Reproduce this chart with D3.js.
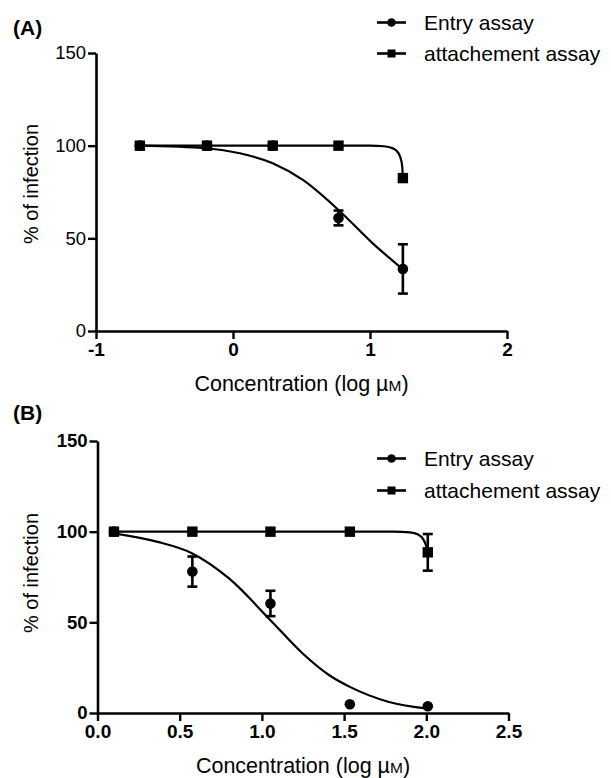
<!DOCTYPE html>
<html>
<head>
<meta charset="utf-8">
<script src="https://cdn.jsdelivr.net/npm/d3@7"></script>
<style>
  html, body { margin: 0; padding: 0; background: #fff; }
  svg { display: block; }
</style>
</head>
<body>
<div id="chart"></div>
<script>
// ── Data ──────────────────────────────────────────────────────

const seriesNames = ['Entry assay', 'attachement assay'];
const yTicks = [0, 50, 100, 150];

// Panel A
const xTicksA = [-1, 0, 1, 2];
const concA = [-0.68, -0.19, 0.29, 0.77, 1.24];
const entryA = [100, 100, 100, 61, 33.5];
const entryErrA = [0, 0, 0, 4, 13.3];
const attachA = [100, 100, 100, 100, 82.5];
const attachErrA = [0, 0, 0, 0, 0];
// fitted curves, points
const entryFitA = [[-0.68, 100], [-0.19, 98.6], [0.05, 95.9], [0.29, 90.5], [0.51, 81.5],
                   [0.77, 65.3], [1.02, 47.3], [1.24, 33.3]];
const attachFitA = [[-0.68, 100], [1.0, 100], [1.1, 99.7], [1.15, 99], [1.19, 97.5],
                    [1.22, 94], [1.235, 89], [1.24, 82.5]];

// Panel B
const xTicksB = [0, 0.5, 1, 1.5, 2, 2.5];
const concB = [0.1, 0.577, 1.052, 1.535, 2.009];
const entryB = [100, 78, 60.4, 4.8, 3.7];
const entryErrB = [0, 8.3, 7, 0, 0];
const attachB = [100, 100, 100, 100, 88.6];
const attachErrB = [0, 0, 0, 0, 10.1];
const entryFitB = [[0.1, 99.1], [0.36, 94.5], [0.577, 88], [0.8, 74.2], [1.052, 51.2],
                   [1.248, 32.8], [1.41, 20.8], [1.535, 14.4], [1.773, 6.1], [2.009, 2.4]];
const attachFitB = [[0.1, 100], [1.8, 100], [1.9, 99.6], [1.95, 98.5], [1.98, 96],
                    [2.0, 92], [2.009, 88.6]];

// ── Chart ─────────────────────────────────────────────────────

const FONT = "'Liberation Sans', Arial, Helvetica, sans-serif";
const INK = '#000';

const svg = d3.select('#chart').append('svg')
  .attr('width', 611).attr('height', 778);

function panel(opt) {
  const x = d3.scaleLinear().domain(opt.xDomain).range(opt.xRange);
  const y = d3.scaleLinear().domain([0, 150]).range(opt.yRange);
  const g = svg.append('g');

  // panel letter
  g.append('text')
    .attr('x', 13).attr('y', opt.letterY)
    .attr('font-family', FONT).attr('font-size', 21).attr('font-weight', 'bold')
    .attr('fill', INK).text(opt.letter);

  // axes
  const yAxis = g.append('g').attr('transform', `translate(${opt.xRange[0]},0)`)
    .call(d3.axisLeft(y).tickValues(yTicks).tickSize(8).tickSizeOuter(0).tickPadding(2));
  const xAxis = g.append('g').attr('transform', `translate(0,${opt.yRange[0]})`)
    .call(d3.axisBottom(x).tickValues(opt.xTicks).tickSize(8).tickSizeOuter(0).tickPadding(4)
      .tickFormat(opt.xFormat));
  [yAxis, xAxis].forEach(a => {
    a.select('.domain').attr('stroke', INK).attr('stroke-width', 2.6);
    a.selectAll('line').attr('stroke', INK).attr('stroke-width', 2.4);
    a.selectAll('text').attr('font-family', FONT).attr('fill', INK);
  });
  yAxis.selectAll('text').attr('font-size', 18.5).attr('font-weight', opt.yBold ? 'bold' : 'normal');
  xAxis.selectAll('text').attr('font-size', 19).attr('font-weight', 'bold');

  // axis titles
  g.append('text')
    .attr('transform', `translate(38,${opt.yTitleMid}) rotate(-90)`)
    .attr('text-anchor', 'middle')
    .attr('font-family', FONT).attr('font-size', 20).attr('fill', INK)
    .text('% of infection');
  const xt = g.append('text')
    .attr('x', (opt.xRange[0] + opt.xRange[1]) / 2).attr('y', opt.yRange[0] + 60)
    .attr('text-anchor', 'middle')
    .attr('font-family', FONT).attr('font-size', 21.5).attr('fill', INK);
  xt.append('tspan').text('Concentration (log \u00b5');
  xt.append('tspan').attr('font-size', 15.5).text('M');
  xt.append('tspan').text(')');

  // fitted curves
  const line = d3.line().x(d => x(d[0])).y(d => y(d[1])).curve(d3.curveMonotoneX);
  [opt.entryFit, opt.attachFit].forEach(pts => {
    g.append('path').attr('d', line(pts))
      .attr('fill', 'none').attr('stroke', INK).attr('stroke-width', 2.2);
  });

  // error bars
  const bars = [];
  opt.conc.forEach((c, i) => {
    if (opt.entryErr[i] > 0) bars.push([c, opt.entry[i], opt.entryErr[i]]);
    if (opt.attachErr[i] > 0) bars.push([c, opt.attach[i], opt.attachErr[i]]);
  });
  const eb = g.append('g').attr('stroke', INK).attr('stroke-width', 2.6);
  bars.forEach(([c, v, e]) => {
    eb.append('line').attr('x1', x(c)).attr('x2', x(c)).attr('y1', y(v - e)).attr('y2', y(v + e));
    [v - e, v + e].forEach(t => {
      eb.append('line').attr('x1', x(c) - 5).attr('x2', x(c) + 5).attr('y1', y(t)).attr('y2', y(t));
    });
  });

  // markers
  g.selectAll('.pt-entry').data(opt.conc).enter().append('circle')
    .attr('cx', d => x(d)).attr('cy', (d, i) => y(opt.entry[i]))
    .attr('r', 5.3).attr('fill', INK);
  g.selectAll('.pt-attach').data(opt.conc).enter().append('rect')
    .attr('x', d => x(d) - 5.2).attr('y', (d, i) => y(opt.attach[i]) - 5.2)
    .attr('width', 10.4).attr('height', 10.4).attr('fill', INK);

  // legend
  const lg = g.append('g').attr('transform', `translate(377,${opt.legendY})`);
  seriesNames.forEach((name, i) => {
    const row = lg.append('g').attr('transform', `translate(0,${i * opt.legendGap})`);
    row.append('line').attr('x1', 0).attr('x2', 29).attr('stroke', INK).attr('stroke-width', 2.6);
    if (i === 0) row.append('circle').attr('cx', 14.5).attr('r', 4.3).attr('fill', INK);
    else row.append('rect').attr('x', 10.5).attr('y', -4).attr('width', 8).attr('height', 8).attr('fill', INK);
    row.append('text').attr('x', 47).attr('y', 7)
      .attr('font-family', FONT).attr('font-size', 21).attr('fill', INK).text(name);
  });
}

const hyphenFormat = f => d => f(d).replace('\u2212', '-');

panel({
  letter: '(A)', letterY: 35,
  xDomain: [-1, 2], xRange: [96, 507], yRange: [331, 53],
  xTicks: xTicksA, xFormat: hyphenFormat(d3.format('d')), yBold: false,
  conc: concA, entry: entryA, entryErr: entryErrA, attach: attachA, attachErr: attachErrA,
  entryFit: entryFitA, attachFit: attachFitA,
  legendY: 22.5, legendGap: 31, yTitleMid: 184,
});

panel({
  letter: '(B)', letterY: 420,
  xDomain: [0, 2.5], xRange: [97.5, 508.5], yRange: [713, 441],
  xTicks: xTicksB, xFormat: d3.format('.1f'), yBold: true,
  conc: concB, entry: entryB, entryErr: entryErrB, attach: attachB, attachErr: attachErrB,
  entryFit: entryFitB, attachFit: attachFitB,
  legendY: 458.5, legendGap: 32, yTitleMid: 573,
});
</script>
</body>
</html>
